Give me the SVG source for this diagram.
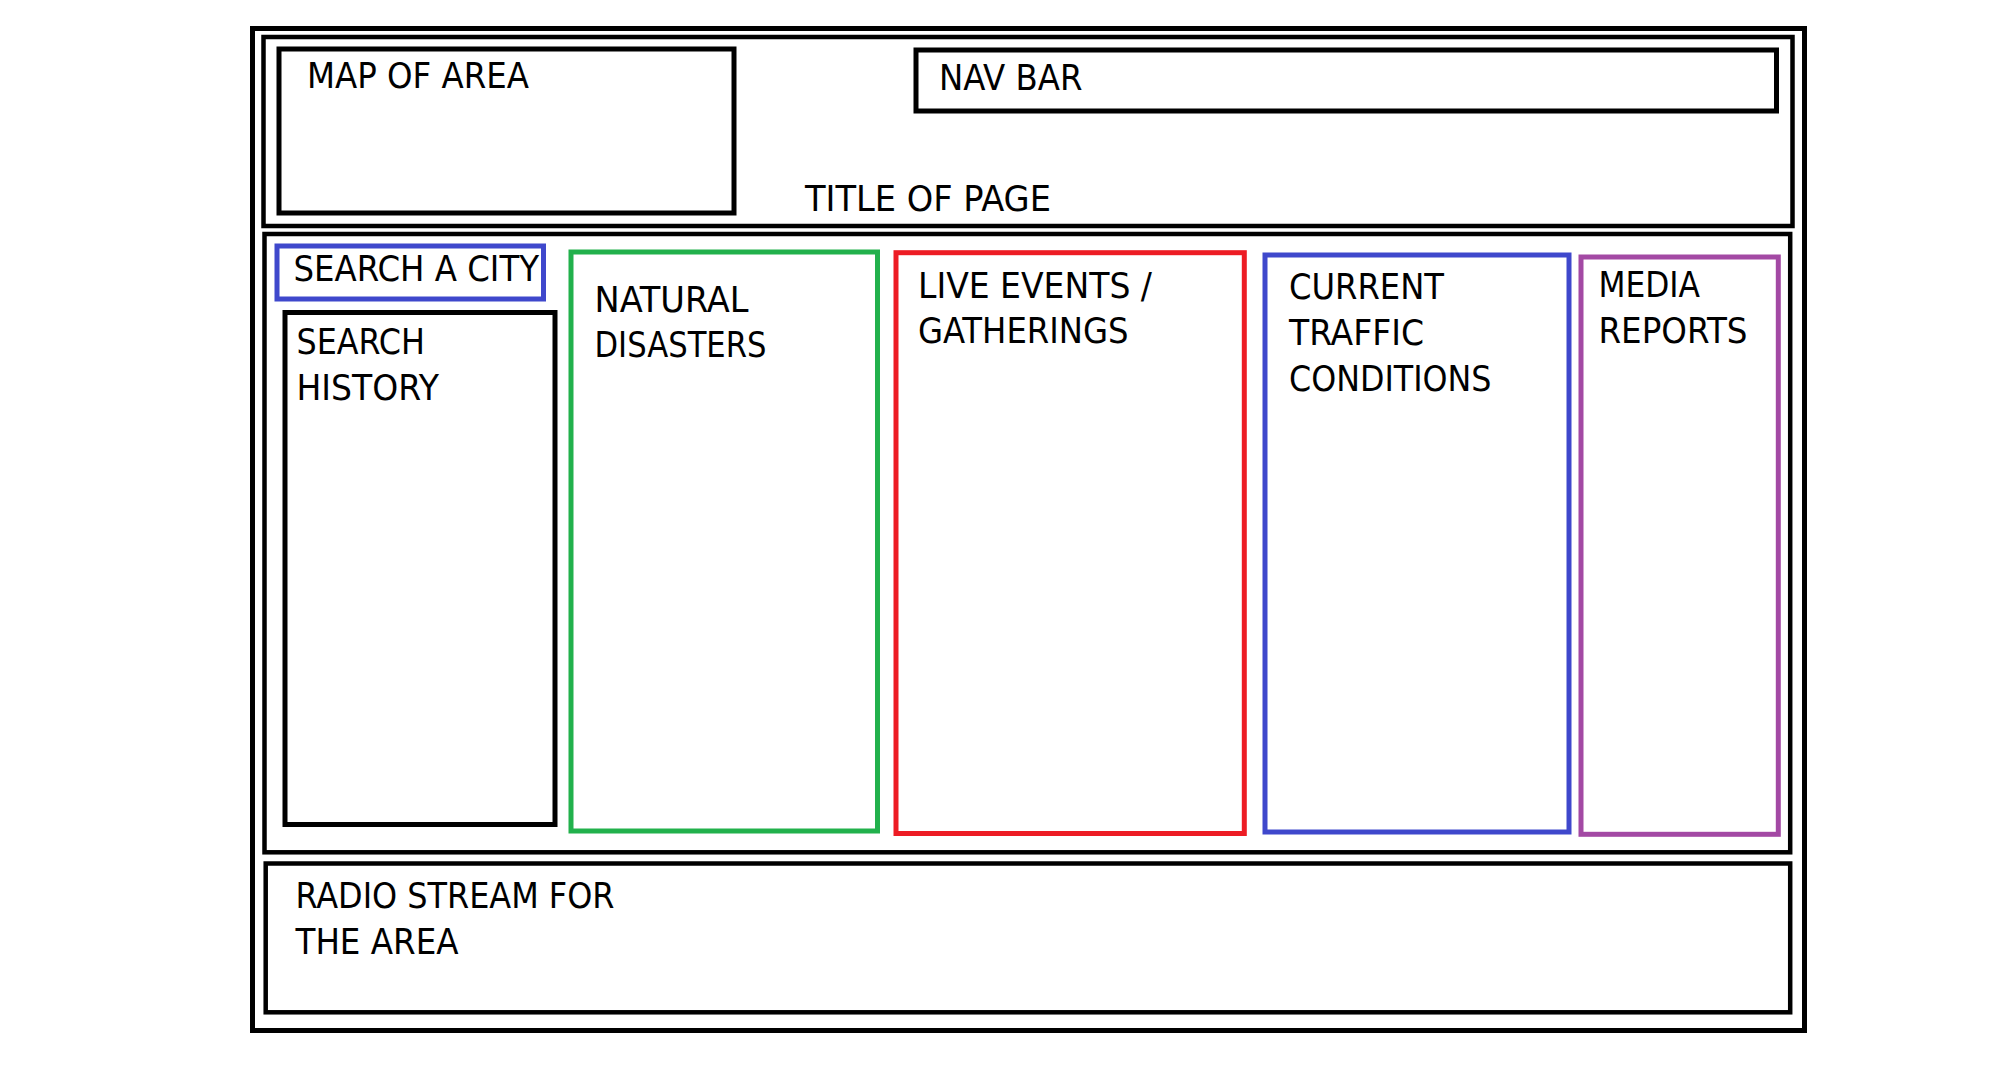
<svg xmlns="http://www.w3.org/2000/svg" width="2004" height="1068" viewBox="0 0 2004 1068">
<style>
  rect { fill: none; stroke-width: 5; }
  .k { stroke: #000; }
  .thin { stroke-width: 4.5; }
  .blue { stroke: #3F48CC; }
  .green { stroke: #22B14C; }
  .red { stroke: #ED1C24; }
  .purple { stroke: #A349A4; }
  text { font-family: "DejaVu Sans Condensed", "DejaVu Sans", sans-serif; font-stretch: semi-condensed; font-size: 35px; fill: #000; }
</style>
<rect x="0" y="0" width="2004" height="1068" style="fill:#fff;stroke:none"/>
<g id="page-frame">
  <rect class="k" x="252.5" y="28.5" width="1552" height="1002"/>
</g>
<g id="header">
  <rect class="k thin" x="263.5" y="37" width="1529" height="189"/>
  <text x="805" y="211" textLength="246" lengthAdjust="spacingAndGlyphs">TITLE OF PAGE</text>
</g>
<g id="map-of-area">
  <rect class="k" x="279" y="49" width="455" height="164"/>
  <text x="307" y="88.3" textLength="222" lengthAdjust="spacingAndGlyphs">MAP OF AREA</text>
</g>
<g id="nav-bar">
  <rect class="k" x="916" y="50" width="860.5" height="61"/>
  <text x="939" y="90" textLength="143.5" lengthAdjust="spacingAndGlyphs">NAV BAR</text>
</g>
<g id="content-area">
  <rect class="k thin" x="264.5" y="234" width="1525.7" height="618.3"/>
</g>
<g id="search-a-city">
  <rect class="blue" x="277" y="246" width="266.5" height="53"/>
  <text x="293.5" y="280.7" textLength="245.5" lengthAdjust="spacingAndGlyphs">SEARCH A CITY</text>
</g>
<g id="search-history">
  <rect class="k" x="285" y="312.5" width="270" height="512"/>
  <text x="296.5" y="354.3" textLength="128.5" lengthAdjust="spacingAndGlyphs">SEARCH</text>
  <text x="296.5" y="400" textLength="142.5" lengthAdjust="spacingAndGlyphs">HISTORY</text>
</g>
<g id="natural-disasters">
  <rect class="green" x="571" y="252" width="306.5" height="579"/>
  <text x="594.5" y="311.7" textLength="154" lengthAdjust="spacingAndGlyphs">NATURAL</text>
  <text x="594.5" y="357" textLength="172" lengthAdjust="spacingAndGlyphs">DISASTERS</text>
</g>
<g id="live-events">
  <rect class="red" x="896" y="252.7" width="348.3" height="580.8"/>
  <text x="918" y="298" textLength="234" lengthAdjust="spacingAndGlyphs">LIVE EVENTS /</text>
  <text x="918" y="343.3" textLength="210.5" lengthAdjust="spacingAndGlyphs">GATHERINGS</text>
</g>
<g id="current-traffic">
  <rect class="blue" x="1265" y="255" width="304" height="577"/>
  <text x="1289" y="298.5" textLength="155" lengthAdjust="spacingAndGlyphs">CURRENT</text>
  <text x="1289" y="344.5" textLength="135" lengthAdjust="spacingAndGlyphs">TRAFFIC</text>
  <text x="1289" y="390.5" textLength="202.5" lengthAdjust="spacingAndGlyphs">CONDITIONS</text>
</g>
<g id="media-reports">
  <rect class="purple" x="1581" y="257" width="197.3" height="577.3"/>
  <text x="1598.5" y="296.7" textLength="101.5" lengthAdjust="spacingAndGlyphs">MEDIA</text>
  <text x="1598.5" y="342.7" textLength="149" lengthAdjust="spacingAndGlyphs">REPORTS</text>
</g>
<g id="radio-stream">
  <rect class="k thin" x="265.7" y="863.5" width="1524.5" height="148.8"/>
  <text x="295.5" y="907.7" textLength="319" lengthAdjust="spacingAndGlyphs">RADIO STREAM FOR</text>
  <text x="295.5" y="954" textLength="163" lengthAdjust="spacingAndGlyphs">THE AREA</text>
</g>
<g id="connectors"></g>
</svg>
